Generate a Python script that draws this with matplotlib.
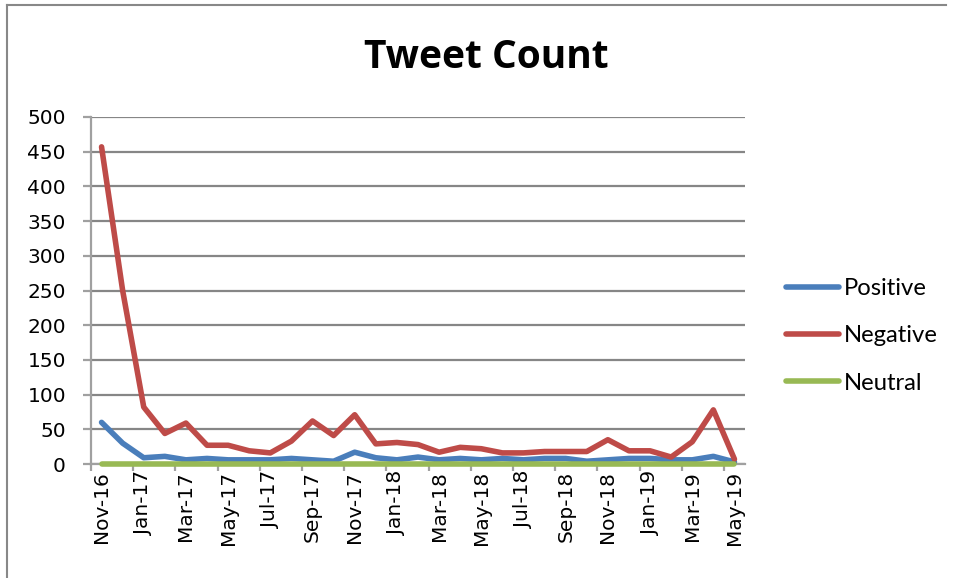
import matplotlib
matplotlib.use("Agg")
import matplotlib.pyplot as plt
from matplotlib.lines import Line2D

plt.rcParams["font.family"] = ["DejaVu Sans"]

months = ["Nov-16", "Dec-16", "Jan-17", "Feb-17", "Mar-17", "Apr-17", "May-17", "Jun-17",
          "Jul-17", "Aug-17", "Sep-17", "Oct-17", "Nov-17", "Dec-17", "Jan-18", "Feb-18",
          "Mar-18", "Apr-18", "May-18", "Jun-18", "Jul-18", "Aug-18", "Sep-18", "Oct-18",
          "Nov-18", "Dec-18", "Jan-19", "Feb-19", "Mar-19", "Apr-19", "May-19"]
positive = [60, 30, 9, 11, 6, 8, 6, 6, 6, 8, 6, 4, 17, 9, 6, 10, 6, 8, 6, 8, 6, 8, 8, 4,
            6, 8, 8, 6, 6, 11, 3]
negative = [457, 250, 82, 44, 59, 27, 27, 19, 16, 33, 62, 41, 71, 29, 31, 28, 17, 24, 22,
            16, 16, 18, 18, 18, 35, 19, 19, 10, 32, 78, 7]
neutral = [0] * 31
yticks = list(range(0, 501, 50))

W, H = 956, 578
fig = plt.figure(figsize=(W / 100, H / 100), dpi=100)
ax = fig.add_axes([91 / W, 1 - 464 / H, 654 / W, 347 / H])

x = list(range(len(months)))
lw = 4.0
ax.plot(x, positive, color="#4A7EBB", lw=lw, solid_capstyle="round", solid_joinstyle="round", label="Positive", zorder=3)
ax.plot(x, negative, color="#BE4B48", lw=lw, solid_capstyle="round", solid_joinstyle="round", label="Negative", zorder=4)
ax.plot(x, neutral, color="#98B954", lw=lw, solid_capstyle="round", solid_joinstyle="round", label="Neutral", zorder=5, clip_on=False)

ax.set_xlim(-0.5, len(months) - 0.5)
ax.set_ylim(0, 500)
ax.set_yticks(yticks)
ax.set_yticklabels([str(v) for v in yticks])
ax.yaxis.grid(True, color="#868686", lw=1.6)
ax.set_axisbelow(True)

# major ticks between categories, labels on minor ticks
ax.set_xticks([i - 0.5 for i in range(0, len(months), 2)])
ax.set_xticklabels([])
ax.set_xticks(list(range(0, len(months), 2)), minor=True)
ax.set_xticklabels(months[::2], minor=True, rotation=90)
ax.tick_params(axis="x", which="major", length=5, width=1.6, color="#A0A0A0", direction="out")
ax.tick_params(axis="x", which="minor", length=0, pad=5, labelsize=14.5, labelfontfamily="DejaVu Sans")
ax.tick_params(axis="y", length=6, width=1.6, color="#A0A0A0", pad=12, labelsize=14.5, labelfontfamily="DejaVu Sans")

for s in ["top", "right"]:
    ax.spines[s].set_visible(False)
for s in ["left", "bottom"]:
    ax.spines[s].set_color("#A0A0A0")
    ax.spines[s].set_linewidth(1.6)

fig.text(486 / W, 1 - 57 / H, "Tweet Count", ha="center", va="center",
         fontsize=28, fontweight="bold", family="Open Sans")

handles = [Line2D([], [], color=c, lw=lw, solid_capstyle="round") for c in ["#4A7EBB", "#BE4B48", "#98B954"]]
fig.legend(handles, ["Positive", "Negative", "Neutral"], loc="center left",
           bbox_to_anchor=(786 / W, 1 - 336 / H), frameon=False,
           prop={"family": "Lato", "size": 17.2}, handlelength=2.2, handletextpad=0.22,
           labelspacing=1.1, borderpad=0, borderaxespad=0)

# outer frame (left and top only visible)
fig.add_artist(Line2D([7 / W, 7 / W], [0, 1 - 5 / H], transform=fig.transFigure, color="#888888", lw=1.5))
fig.add_artist(Line2D([7 / W, 946 / W], [1 - 5 / H, 1 - 5 / H], transform=fig.transFigure, color="#888888", lw=1.5))

fig.savefig("out.png", dpi=100)
